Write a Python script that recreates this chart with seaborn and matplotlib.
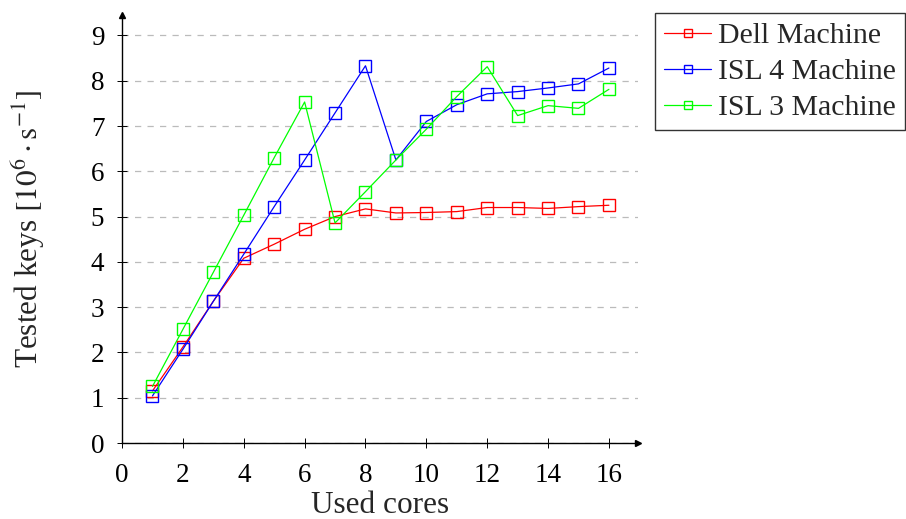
import matplotlib
matplotlib.use("Agg")
import matplotlib.pyplot as plt
import seaborn as sns
import pandas as pd

cores = list(range(1, 17))
dell = [1.15, 2.12, 3.13, 4.08, 4.39, 4.72, 5.00, 5.17, 5.08, 5.09, 5.11, 5.20, 5.20, 5.18, 5.22, 5.25]
isl4 = [1.04, 2.07, 3.13, 4.17, 5.22, 6.25, 7.29, 8.33, 6.25, 7.10, 7.47, 7.71, 7.76, 7.84, 7.93, 8.28]
isl3 = [1.25, 2.51, 3.77, 5.03, 6.30, 7.53, 4.86, 5.55, 6.25, 6.93, 7.65, 8.31, 7.23, 7.45, 7.39, 7.81]
series_names = ["Dell Machine", "ISL 4 Machine", "ISL 3 Machine"]
series_colors = ["#ff0000", "#0000ff", "#00ff00"]
x_ticks = list(range(0, 17, 2))
y_ticks = list(range(0, 10))

sns.set_theme(style="white")
plt.rcParams["font.family"] = ["Liberation Serif", "DejaVu Serif"]
plt.rcParams["mathtext.fontset"] = "stix"

fig = plt.figure(figsize=(9.06, 5.19), dpi=100)
ax = fig.add_axes([0.1347, 0.1464, 0.704 - 0.1347, 0.971 - 0.1464])

for name, vals, col in zip(series_names, [dell, isl4, isl3], series_colors):
    df = pd.DataFrame({"cores": cores, "keys": vals})
    sns.lineplot(data=df, x="cores", y="keys", ax=ax, color=col, label=name,
                 marker="s", markersize=8, markerfacecolor="none",
                 markeredgecolor=col, markeredgewidth=1.0, linewidth=0.9)

ax.set_xlim(0, 16.95)
ax.set_ylim(0, 9.45)
ax.set_xticks(x_ticks)
ax.set_yticks(y_ticks)
ax.tick_params(axis="both", labelsize=19.5, direction="inout", length=6.5, width=0.7,
               colors="black", bottom=True, left=True)
ax.tick_params(axis="x", pad=11)
ax.tick_params(axis="y", pad=9.5)
ax.yaxis.grid(True, linestyle=(0, (5, 5)), color="#bbbbbb", linewidth=0.9)
ax.xaxis.grid(False)
ax.set_axisbelow(True)
for s in ["top", "right"]:
    ax.spines[s].set_visible(False)
for s in ["left", "bottom"]:
    ax.spines[s].set_color("black")
    ax.spines[s].set_linewidth(1.0)
ax.plot(1, 0, marker=">", color="black", markersize=5, transform=ax.transAxes, clip_on=False)
ax.plot(0, 1, marker="^", color="black", markersize=5, transform=ax.transAxes, clip_on=False)

ax.set_xlabel("Used cores", fontsize=22.5)
ax.set_ylabel(r"Tested keys $[10^6 \cdot \mathrm{s}^{-1}]$", fontsize=22.5)
ax.xaxis.set_label_coords(0.5, -0.112)
ax.yaxis.set_label_coords(-0.145, 0.5)

leg = ax.legend(loc="upper left", bbox_to_anchor=(0.7235, 0.974), bbox_transform=fig.transFigure,
                fontsize=21.5, frameon=True, fancybox=False, edgecolor="black",
                handlelength=1.55, handletextpad=0.25, labelspacing=0.3, borderpad=0.3,
                borderaxespad=0)
leg.get_frame().set_linewidth(1.0)
for h in leg.get_lines():
    h.set_markersize(6)

fig.savefig("out.png", dpi=100)
